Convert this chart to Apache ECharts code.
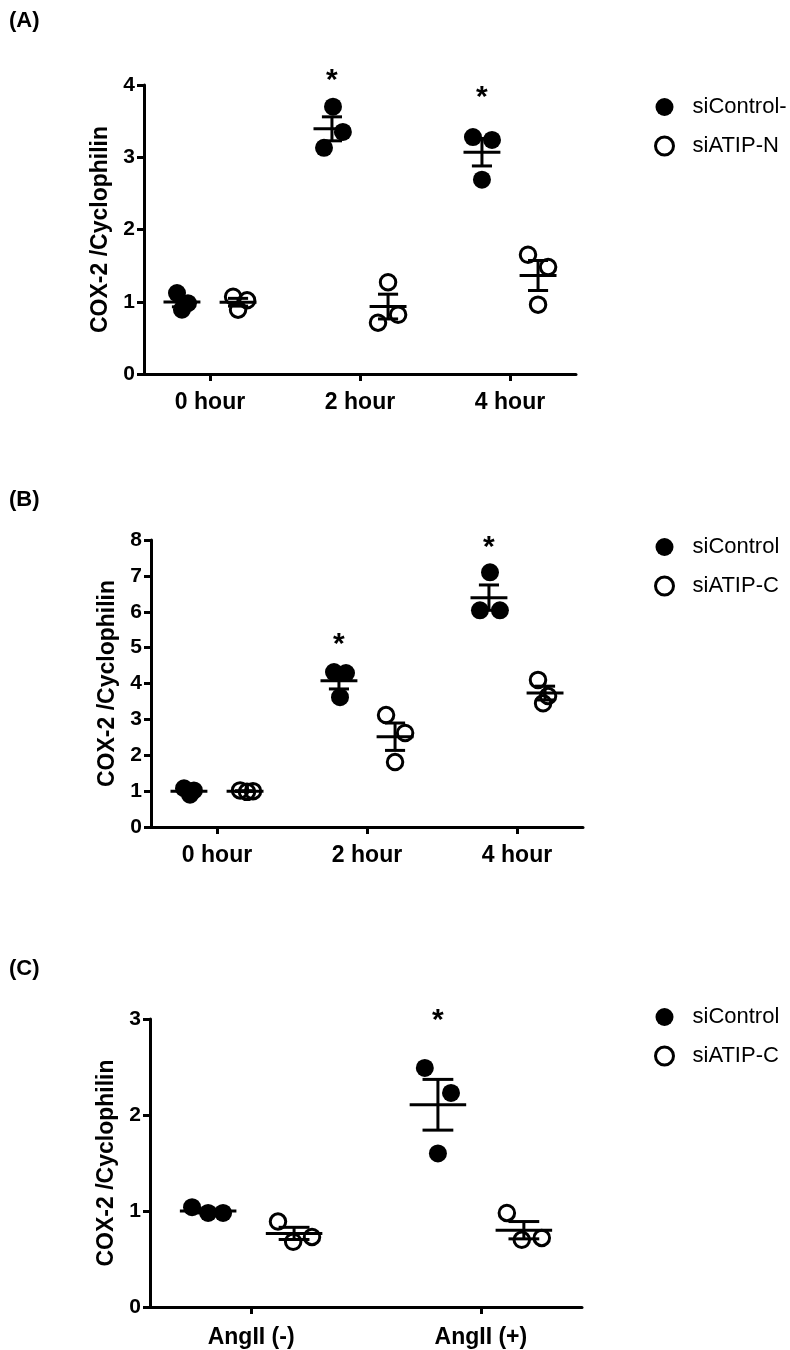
<!DOCTYPE html>
<html>
<head>
<meta charset="utf-8">
<script src="https://cdn.jsdelivr.net/npm/echarts@6/dist/echarts.min.js"></script>
<style>html,body{margin:0;padding:0;background:#fff}#c{width:790px;height:1350px}</style>
</head>
<body>
<div id="c"></div>
<script>
// ---------- data ----------
const catsA = ['0 hour', '2 hour', '4 hour'];
const ctrlA = [[1.12, 0.98, 0.89], [3.70, 3.35, 3.13], [3.28, 3.24, 2.69]];
const atipA = [[1.07, 1.02, 0.89], [1.27, 0.82, 0.71], [1.65, 1.48, 0.96]];
const ctrlJitA = [[-0.033, 0.04, 0], [0.007, 0.073, -0.053], [-0.06, 0.067, 0]];
const atipJitA = [[-0.033, 0.06, 0], [0, 0.067, -0.067], [-0.067, 0.067, 0]];
const sigA = [[1, 4.14], [2, 3.90]];
const yTicksA = [0, 4, 1];

const catsB = ['0 hour', '2 hour', '4 hour'];
const ctrlB = [[1.08, 1.02, 0.90], [4.32, 4.29, 3.62], [7.10, 6.04, 6.04]];
const atipB = [[1.02, 0.98, 1.00], [3.12, 2.62, 1.81], [4.10, 3.65, 3.45]];
const ctrlJitB = [[-0.033, 0.033, 0.007], [-0.033, 0.047, 0.007], [0.007, -0.06, 0.073]];
const atipJitB = [[-0.033, 0.013, 0.053], [-0.06, 0.067, 0], [-0.047, 0.02, -0.013]];
const sigB = [[1, 5.26], [2, 7.94]];
const yTicksB = [0, 8, 1];

const catsC = ['AngII (-)', 'AngII (+)'];
const ctrlC = [[1.04, 0.98, 0.98], [2.49, 2.23, 1.60]];
const atipC = [[0.89, 0.68, 0.73], [0.98, 0.70, 0.72]];
const ctrlJitC = [[-0.07, 0, 0.065], [-0.057, 0.057, 0]];
const atipJitC = [[-0.07, -0.004, 0.078], [-0.074, -0.009, 0.078]];
const sigC = [[1, 3.04]];
const yTicksC = [0, 3, 1];

const namesA = ['siControl-', 'siATIP-N'];
const namesBC = ['siControl', 'siATIP-C'];
const yName = 'COX-2 /Cyclophilin';

// ---------- helpers ----------
const FONT = 'Liberation Sans, Arial, Helvetica, sans-serif';
const GROUP_OFF = 0.187;
const MEAN_HW = 0.123, CAP_HW = 0.067;

function pts(vals, jit, off) {
  const out = [];
  vals.forEach((g, i) => g.forEach((v, j) => out.push([i + off + jit[i][j], v])));
  return out;
}
function stats(vals, off) {
  return vals.map((g, i) => {
    const n = g.length, m = g.reduce((a, b) => a + b, 0) / n;
    const sd = Math.sqrt(g.reduce((a, b) => a + (b - m) * (b - m), 0) / (n - 1));
    return [i + off, m, sd / Math.sqrt(n)];
  });
}
function renderErr(params, api) {
  const x = api.value(0), m = api.value(1), s = api.value(2);
  const L = (a, b) => ({ type: 'line', shape: { x1: a[0], y1: a[1], x2: b[0], y2: b[1] },
    style: { stroke: '#000', lineWidth: 3 } });
  return { type: 'group', children: [
    L(api.coord([x - MEAN_HW, m]), api.coord([x + MEAN_HW, m])),
    L(api.coord([x, m - s]), api.coord([x, m + s])),
    L(api.coord([x - CAP_HW, m + s]), api.coord([x + CAP_HW, m + s])),
    L(api.coord([x - CAP_HW, m - s]), api.coord([x + CAP_HW, m - s]))
  ]};
}
function renderStar(params, api) {
  const p = api.coord([api.value(0), api.value(1)]);
  return { type: 'text', x: p[0], y: p[1] + 6,
    style: { text: '*', font: 'bold 30px ' + FONT, fill: '#000', align: 'center', verticalAlign: 'middle' } };
}

const grids = [
  { left: 144, top: 85, width: 432, height: 289 },
  { left: 151, top: 540, width: 432, height: 287 },
  { left: 150, top: 1019, width: 432, height: 288 }
];
const panels = [
  { cats: catsA, ctrl: ctrlA, atip: atipA, cj: ctrlJitA, aj: atipJitA, sig: sigA, yt: yTicksA, names: namesA },
  { cats: catsB, ctrl: ctrlB, atip: atipB, cj: ctrlJitB, aj: atipJitB, sig: sigB, yt: yTicksB, names: namesBC },
  { cats: catsC, ctrl: ctrlC, atip: atipC, cj: ctrlJitC, aj: atipJitC, sig: sigC, yt: yTicksC, names: namesBC }
];

const xAxis = [], yAxis = [], series = [], legend = [];
const legendTops = [91, 531, 1001];
const labelTops = [5, 484, 953];
const xLabelMargins = [17, 17, 19];
const title = [];

panels.forEach((p, k) => {
  const n = p.cats.length;
  const ticks = p.cats.map((c, i) => i);
  xAxis.push({
    type: 'value', gridIndex: k, min: -0.44, max: n - 1 + 0.44,
    splitLine: { show: false },
    axisLine: { show: true, onZero: false, lineStyle: { color: '#000', width: 3 } },
    axisTick: { show: true, customValues: ticks, length: 7, lineStyle: { color: '#000', width: 3 } },
    axisLabel: { show: true, customValues: ticks, margin: xLabelMargins[k], formatter: v => p.cats[Math.round(v)],
      color: '#000', fontWeight: 'bold', fontSize: 23, fontFamily: FONT }
  });
  yAxis.push({
    type: 'value', gridIndex: k, min: p.yt[0], max: p.yt[1], interval: p.yt[2],
    name: yName, nameLocation: 'middle', nameGap: 31, nameRotate: 90,
    nameTextStyle: { color: '#000', fontWeight: 'bold', fontSize: 23, fontFamily: FONT },
    splitLine: { show: false },
    axisLine: { show: true, onZero: false, lineStyle: { color: '#000', width: 3 } },
    axisTick: { show: true, length: 7, lineStyle: { color: '#000', width: 3 } },
    axisLabel: { color: '#000', fontWeight: 'bold', fontSize: 21, fontFamily: FONT, margin: 9 }
  });
  series.push({
    type: 'scatter', name: p.names[0], xAxisIndex: k, yAxisIndex: k,
    data: pts(p.ctrl, p.cj, -GROUP_OFF), symbol: 'circle', symbolSize: 18,
    itemStyle: { color: '#000', opacity: 1 }, z: 3
  });
  series.push({
    type: 'scatter', name: p.names[1], xAxisIndex: k, yAxisIndex: k,
    data: pts(p.atip, p.aj, GROUP_OFF), symbol: 'circle', symbolSize: 15.5,
    itemStyle: { color: 'rgba(0,0,0,0)', borderColor: '#000', borderWidth: 3, opacity: 1 }, z: 3
  });
  series.push({
    type: 'custom', xAxisIndex: k, yAxisIndex: k, renderItem: renderErr, z: 4,
    data: stats(p.ctrl, -GROUP_OFF).concat(stats(p.atip, GROUP_OFF)),
    encode: { x: 0, y: 1 }, silent: true
  });
  series.push({
    type: 'custom', xAxisIndex: k, yAxisIndex: k, renderItem: renderStar, z: 5, clip: false,
    data: p.sig.map(s => [s[0] - GROUP_OFF, s[1]]), encode: { x: 0, y: 1 }, silent: true
  });
  legend.push({
    orient: 'vertical', left: 649, top: legendTops[k], itemWidth: 18, itemHeight: 18, itemGap: 17,
    selectedMode: false,
    textStyle: { color: '#000', fontSize: 22, fontFamily: FONT, padding: [0, 0, 0, 14] },
    data: [
      { name: p.names[0], icon: 'circle', itemStyle: { color: '#000', borderWidth: 0 } },
      { name: p.names[1], icon: 'circle', itemStyle: { color: '#fff', borderColor: '#000', borderWidth: 3 } }
    ]
  });
  title.push({ text: ['(A)', '(B)', '(C)'][k], left: 4, top: labelTops[k],
    textStyle: { color: '#000', fontWeight: 'bold', fontSize: 22, fontFamily: FONT } });
});

const chart = echarts.init(document.getElementById('c'), null, { renderer: 'canvas' });
chart.setOption({
  animation: false, backgroundColor: '#fff',
  title, legend, grid: grids, xAxis, yAxis, series
});
</script>
</body>
</html>
